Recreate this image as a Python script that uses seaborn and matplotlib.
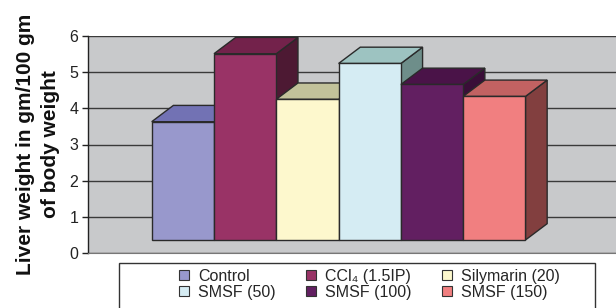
import seaborn as sns
import pandas as pd
import matplotlib
matplotlib.use("Agg")
import matplotlib.pyplot as plt
from matplotlib.patches import Polygon, Patch, Rectangle

groups = ["Control", "CCl\u2084 (1.5IP)", "Silymarin (20)", "SMSF (50)", "SMSF (100)", "SMSF (150)"]
liver_weight = [3.63, 5.51, 4.25, 5.24, 4.66, 4.33]
y_ticks = [0, 1, 2, 3, 4, 5, 6]

front_colors = ["#9898CC", "#993366", "#FDF8CD", "#D5ECF3", "#621F61", "#F17F80"]
top_colors = ["#7272B4", "#73224B", "#C2C29A", "#9DC3C1", "#4A1348", "#C26262"]
side_colors = ["#55558A", "#4D1933", "#8E8E6C", "#6E8E8A", "#3A0E38", "#823F3F"]

sns.set_style("white")
plt.rcParams["font.family"] = ["Liberation Sans", "DejaVu Sans"]

W, H = 616, 308
fig = plt.figure(figsize=(W / 100, H / 100), dpi=100)
ax = fig.add_axes([88 / W, (H - 253) / H, 1 - 88 / W, (253 - 36) / H])
ax.set_facecolor("#C8C9CB")

base = 0.36  # floor of the 3D columns sits above the zero line
df = pd.DataFrame({"group": groups, "value": liver_weight})
df["height"] = df["value"] - base

sns.barplot(data=df, x="group", y="height", hue="group", palette=front_colors,
            saturation=1, width=1.0, dodge=False, legend=False, bottom=base,
            edgecolor="#2a2a2a", linewidth=1, ax=ax)

# depth of the pseudo-3D columns, in data units
dx, dy = 0.348, 0.451
for i, p in enumerate(ax.patches):
    x0, y0, w = p.get_x(), p.get_y(), p.get_width()
    top = y0 + p.get_height()
    side = Polygon([(x0 + w, y0), (x0 + w + dx, y0 + dy), (x0 + w + dx, top + dy), (x0 + w, top)],
                   closed=True, facecolor=side_colors[i], edgecolor="#2a2a2a", lw=1, zorder=3 + 3 * i)
    lid = Polygon([(x0, top), (x0 + w, top), (x0 + w + dx, top + dy), (x0 + dx, top + dy)],
                  closed=True, facecolor=top_colors[i], edgecolor="#2a2a2a", lw=1, zorder=3 + 3 * i)
    ax.add_patch(side)
    ax.add_patch(lid)
    p.set_zorder(4 + 3 * i)

ax.set_xlim(-1.5225, 6.953)
ax.set_ylim(0, 6)
ax.set_yticks(y_ticks)
ax.set_xticks([])
ax.set_xlabel("")
ax.set_ylabel("")
ax.yaxis.grid(True, color="#3a3a3a", lw=1)
ax.set_axisbelow(True)
ax.tick_params(axis="y", direction="out", length=4, width=1, color="#222222",
               labelsize=11.5, labelcolor="#222222", pad=3, left=True)
for s in ["top", "right"]:
    ax.spines[s].set_visible(False)
ax.spines["bottom"].set_color("#777777")
ax.spines["left"].set_color("#222222")
ax.spines["left"].set_linewidth(1)

fig.text(38 / W, (H - 144) / H, "Liver weight in gm/100 gm\nof body weight",
         rotation=90, ha="center", va="center", fontsize=15, fontweight="bold",
         multialignment="center", linespacing=1.45, color="#111111")

# legend box runs off the bottom of the image
fig.add_artist(Rectangle((119 / W, -0.1), (595 - 119) / W, (H - 263) / H + 0.1,
                         transform=fig.transFigure, fill=False, edgecolor="#333333", lw=1))
order = [0, 3, 1, 4, 2, 5]
handles = [Patch(facecolor=front_colors[k], edgecolor="#333333", lw=0.8) for k in order]
labels = [groups[k] for k in order]
fig.legend(handles, labels, ncol=3, loc="upper left", bbox_to_anchor=(179 / W, (H - 269) / H),
           frameon=False, fontsize=11.5, handlelength=0.6, handleheight=0.6,
           handletextpad=0.6, columnspacing=1.9, borderpad=0, borderaxespad=0,
           labelspacing=0.05)

fig.savefig("out.png", dpi=100)
